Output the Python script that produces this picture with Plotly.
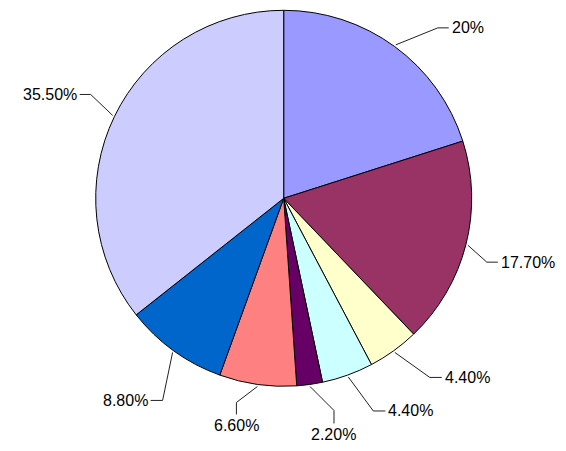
import math
import plotly.graph_objects as go

# ---- data ----
values = [20, 17.7, 4.4, 4.4, 2.2, 6.6, 8.8, 35.5]
label_texts = ["20%", "17.70%", "4.40%", "4.40%", "2.20%", "6.60%", "8.80%", "35.50%"]
slice_colors = ["#9999FF", "#993366", "#FFFFCC", "#CCFFFF", "#660066", "#FF8080", "#0066CC", "#CCCCFF"]

# ---- layout config (pixels) ----
W, H = 566, 451
CX, CY, R = 283.7, 198.3, 188.0
# per-label leader styling: elbow offset from slice edge, tail vector, text anchor
leader_elbow = [(42, -17), (19, 17), (35, 25), (25, 34), (24, 24), (-21, 16), (-10, 48), (-22, -21)]
leader_tail = [(11, 0), (11, 0), (12, 0), (12, 0), (0, 13), (0, 12), (-12, 0), (-11, 0)]
leader_anchor = ["left", "left", "left", "left", "below", "below", "right", "right"]

def px(x):
    return x / W

def py(y):
    return 1 - y / H

fig = go.Figure()
fig.add_trace(go.Pie(
    values=values,
    labels=[f"s{i}" for i in range(len(values))],
    marker=dict(colors=slice_colors, line=dict(color="#000000", width=1)),
    sort=False,
    direction="clockwise",
    rotation=0,
    textinfo="none",
    hoverinfo="skip",
    showlegend=False,
    domain=dict(x=[px(CX - R), px(CX + R)], y=[py(CY + R), py(CY - R)]),
))

total = sum(values)
cum = 0.0
shapes = []
annotations = []
for i, v in enumerate(values):
    mid = (cum + v / 2) / total * 2 * math.pi
    cum += v
    sx = CX + (R + 2) * math.sin(mid)
    sy = CY - (R + 2) * math.cos(mid)
    ex, ey = sx + leader_elbow[i][0], sy + leader_elbow[i][1]
    tx, ty = ex + leader_tail[i][0], ey + leader_tail[i][1]
    shapes.append(dict(
        type="path", xref="paper", yref="paper",
        path=f"M {px(sx)} {py(sy)} L {px(ex)} {py(ey)} L {px(tx)} {py(ty)}",
        line=dict(color="#222222", width=1),
    ))
    a = leader_anchor[i]
    if a == "left":
        ann = dict(x=px(tx + 1), y=py(ty), xanchor="left", yanchor="middle")
    elif a == "right":
        ann = dict(x=px(tx - 1), y=py(ty), xanchor="right", yanchor="middle")
    else:
        ann = dict(x=px(tx), y=py(ty + 1), xanchor="center", yanchor="top")
    ann.update(text=label_texts[i], showarrow=False, xref="paper", yref="paper",
               font=dict(family="Liberation Sans, Arial, sans-serif", size=16, color="#000000"))
    annotations.append(ann)

fig.update_layout(
    width=W, height=H,
    margin=dict(l=0, r=0, t=0, b=0),
    paper_bgcolor="#FFFFFF",
    plot_bgcolor="#FFFFFF",
    shapes=shapes,
    annotations=annotations,
)

fig.write_html(
    "out.html",
    config={"displayModeBar": False},
    post_script="document.body.style.margin='0px';document.body.style.overflow='hidden';",
)
